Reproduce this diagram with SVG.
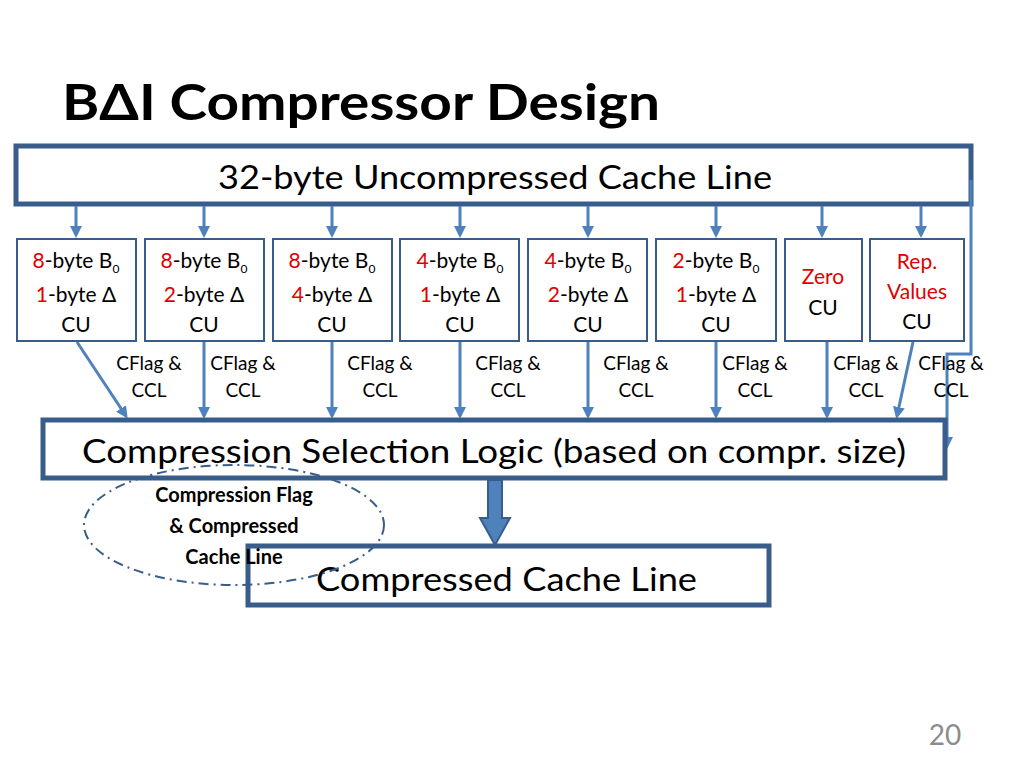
<svg xmlns="http://www.w3.org/2000/svg" width="1024" height="768" viewBox="0 0 1024 768">
<style>
text{font-family:Lato,"Open Sans","Liberation Sans",sans-serif;fill:#000}
.big{font-size:32px}
.cu{font-size:21px;text-anchor:middle}
.lab{font-size:19px;text-anchor:middle}
.r{fill:#e00000}
.box{fill:#fff;stroke:#385d8a;stroke-width:5}
.cub{fill:#fff;stroke:#385d8a;stroke-width:2}
.ar{stroke:#4f81bd;stroke-width:3;fill:none;marker-end:url(#ah)}
</style>
<defs>
<marker id="ah" markerWidth="4" markerHeight="4" refX="3" refY="2" orient="auto"><path d="M0,0 L4,2 L0,4 Z" fill="#4f81bd"/></marker>
</defs>
<rect width="1024" height="768" fill="#fff"/>
<text x="62" y="120" textLength="598" lengthAdjust="spacingAndGlyphs" style="font-size:50px;font-weight:bold">BΔI Compressor Design</text>
<g id="top"><rect class="box" x="16" y="146" width="955" height="58"/><text class="big" x="218" y="189" textLength="554" lengthAdjust="spacingAndGlyphs">32-byte Uncompressed Cache Line</text></g>
<g id="connectors">
<line class="ar" x1="76" y1="206" x2="76" y2="235"/>
<line class="ar" x1="204" y1="206" x2="204" y2="235"/>
<line class="ar" x1="332" y1="206" x2="332" y2="235"/>
<line class="ar" x1="460" y1="206" x2="460" y2="235"/>
<line class="ar" x1="588" y1="206" x2="588" y2="235"/>
<line class="ar" x1="716" y1="206" x2="716" y2="235"/>
<line class="ar" x1="822" y1="206" x2="822" y2="235"/>
<line class="ar" x1="921" y1="206" x2="921" y2="235"/>
<line class="ar" x1="77" y1="342" x2="126" y2="416"/>
<line class="ar" x1="204" y1="342" x2="204" y2="416"/>
<line class="ar" x1="332" y1="342" x2="332" y2="416"/>
<line class="ar" x1="460" y1="342" x2="460" y2="416"/>
<line class="ar" x1="588" y1="342" x2="588" y2="416"/>
<line class="ar" x1="716" y1="342" x2="716" y2="416"/>
<line class="ar" x1="827" y1="342" x2="827" y2="416"/>
<line class="ar" x1="913" y1="342" x2="897" y2="416"/>
<polyline class="ar" points="971,180 971,354 947,354 947,446"/>
<path d="M488,480 H502 V518 H510 L495,545 L480,518 H488 Z" fill="#4f81bd" stroke="#385d8a" stroke-width="2"/>
</g>
<g id="cu1"><rect class="cub" x="17" y="239" width="119" height="102"/><text class="cu" x="76" y="268"><tspan class="r">8</tspan>-byte B<tspan font-size="12" dy="5">0</tspan></text><text class="cu" x="76" y="302"><tspan class="r">1</tspan>-byte Δ</text><text class="cu" x="76" y="332">CU</text></g>
<g id="cu2"><rect class="cub" x="145" y="239" width="119" height="102"/><text class="cu" x="204" y="268"><tspan class="r">8</tspan>-byte B<tspan font-size="12" dy="5">0</tspan></text><text class="cu" x="204" y="302"><tspan class="r">2</tspan>-byte Δ</text><text class="cu" x="204" y="332">CU</text></g>
<g id="cu3"><rect class="cub" x="273" y="239" width="119" height="102"/><text class="cu" x="332" y="268"><tspan class="r">8</tspan>-byte B<tspan font-size="12" dy="5">0</tspan></text><text class="cu" x="332" y="302"><tspan class="r">4</tspan>-byte Δ</text><text class="cu" x="332" y="332">CU</text></g>
<g id="cu4"><rect class="cub" x="400" y="239" width="119" height="102"/><text class="cu" x="460" y="268"><tspan class="r">4</tspan>-byte B<tspan font-size="12" dy="5">0</tspan></text><text class="cu" x="460" y="302"><tspan class="r">1</tspan>-byte Δ</text><text class="cu" x="460" y="332">CU</text></g>
<g id="cu5"><rect class="cub" x="528" y="239" width="119" height="102"/><text class="cu" x="588" y="268"><tspan class="r">4</tspan>-byte B<tspan font-size="12" dy="5">0</tspan></text><text class="cu" x="588" y="302"><tspan class="r">2</tspan>-byte Δ</text><text class="cu" x="588" y="332">CU</text></g>
<g id="cu6"><rect class="cub" x="656" y="239" width="120" height="102"/><text class="cu" x="716" y="268"><tspan class="r">2</tspan>-byte B<tspan font-size="12" dy="5">0</tspan></text><text class="cu" x="716" y="302"><tspan class="r">1</tspan>-byte Δ</text><text class="cu" x="716" y="332">CU</text></g>
<g id="cu7"><rect class="cub" x="785" y="239" width="77" height="102"/><text class="cu r" x="823" y="284">Zero</text><text class="cu" x="823" y="315">CU</text></g>
<g id="cu8"><rect class="cub" x="870" y="239" width="94" height="102"/><text class="cu r" x="917" y="269">Rep.</text><text class="cu r" x="917" y="299">Values</text><text class="cu" x="917" y="329">CU</text></g>
<g id="labels">
<text class="lab" x="149" y="370">CFlag &amp;</text><text class="lab" x="149" y="397">CCL</text>
<text class="lab" x="243" y="370">CFlag &amp;</text><text class="lab" x="243" y="397">CCL</text>
<text class="lab" x="380" y="370">CFlag &amp;</text><text class="lab" x="380" y="397">CCL</text>
<text class="lab" x="508" y="370">CFlag &amp;</text><text class="lab" x="508" y="397">CCL</text>
<text class="lab" x="636" y="370">CFlag &amp;</text><text class="lab" x="636" y="397">CCL</text>
<text class="lab" x="755" y="370">CFlag &amp;</text><text class="lab" x="755" y="397">CCL</text>
<text class="lab" x="866" y="370">CFlag &amp;</text><text class="lab" x="866" y="397">CCL</text>
<text class="lab" x="951" y="370">CFlag &amp;</text><text class="lab" x="951" y="397">CCL</text>
</g>
<g id="sel"><rect class="box" x="43" y="420" width="902" height="58"/><text class="big" x="82" y="463" textLength="824" lengthAdjust="spacingAndGlyphs">Compression Selection Logic (based on compr. size)</text></g>
<g id="out"><rect class="box" x="248" y="546" width="521" height="59"/><text class="big" x="316" y="591" textLength="381" lengthAdjust="spacingAndGlyphs">Compressed Cache Line</text></g>
<g id="note"><ellipse cx="234" cy="525" rx="150" ry="60" fill="none" stroke="#385d8a" stroke-width="2" stroke-dasharray="10,5,2,5"/>
<text x="234" y="502" text-anchor="middle" font-size="20" font-weight="bold">Compression Flag</text>
<text x="234" y="533" text-anchor="middle" font-size="20" font-weight="bold">&amp; Compressed</text>
<text x="234" y="564" text-anchor="middle" font-size="20" font-weight="bold">Cache Line</text></g>
<text x="945" y="745" text-anchor="middle" font-size="28" style="fill:#8c8c8c">20</text>
</svg>
